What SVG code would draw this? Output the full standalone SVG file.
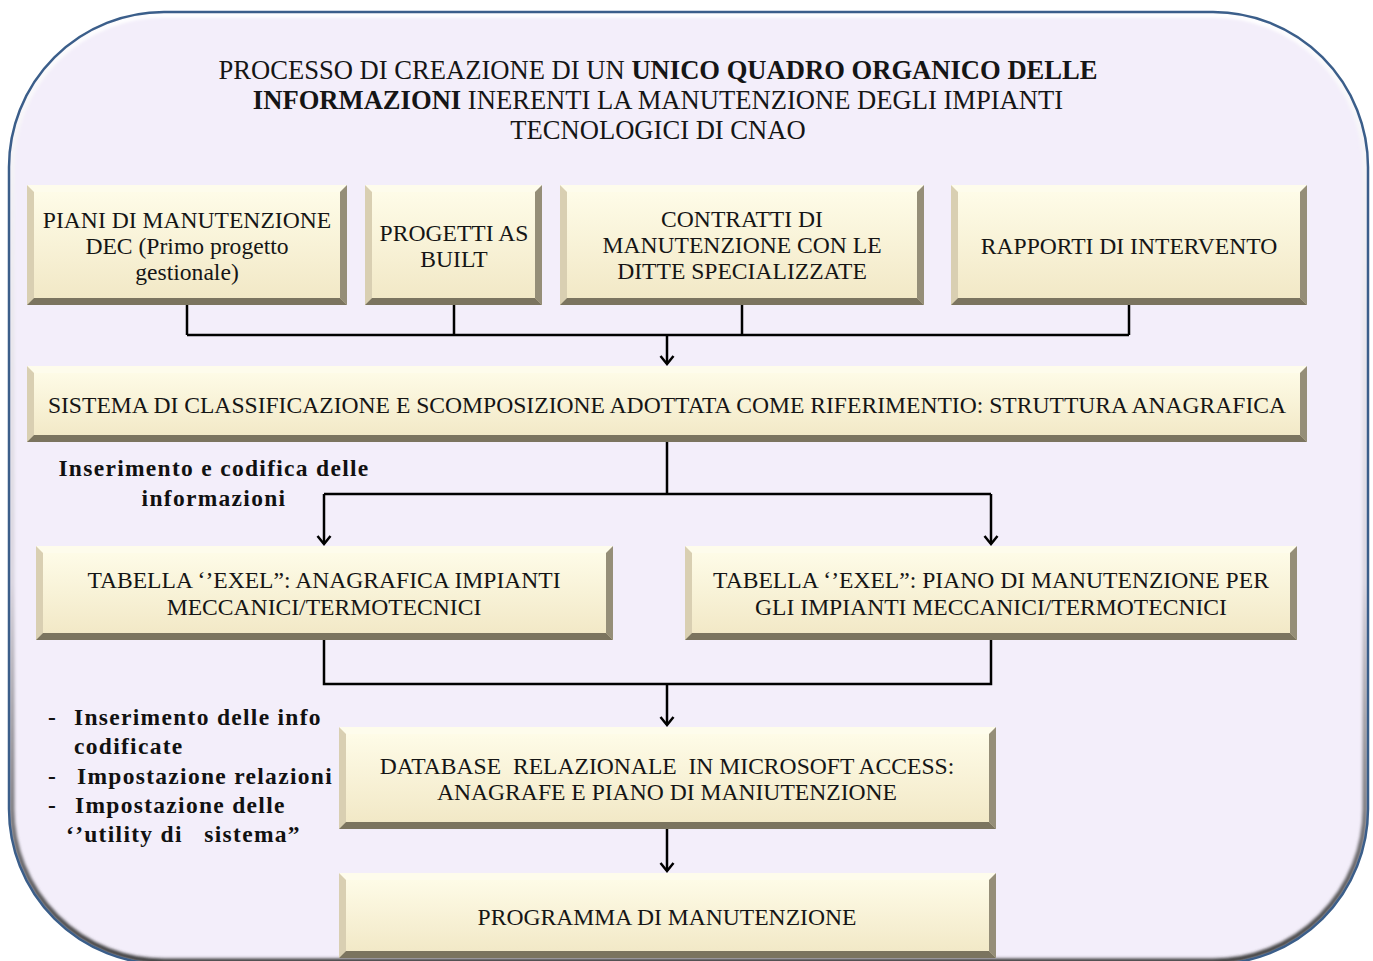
<svg xmlns="http://www.w3.org/2000/svg" width="1373" height="961" viewBox="0 0 1373 961">
  <style>
    .face { fill: url(#faceGrad); }
    .bt { fill: #fefcec; }
    .bl { fill: #d9cfb2; }
    .br { fill: #958e78; }
    .bb { fill: #7b745f; }
    .bx { font-family: "Liberation Serif", "Times New Roman", serif; font-size: 23.6px; fill: #151515; text-anchor: middle; }
    .ttl { font-family: "Liberation Serif", "Times New Roman", serif; font-size: 26.6px; fill: #151515; text-anchor: middle; }
    .lbl { font-family: "Liberation Serif", "Times New Roman", serif; font-size: 23.5px; font-weight: bold; fill: #111; letter-spacing: 1.3px; }
    .b { font-weight: bold; }
    .wire { fill: none; stroke: #000; stroke-width: 2.5; }
    .arrow { fill: none; stroke: #000; stroke-width: 2.5; marker-end: url(#chev); }
  </style>
  <defs>
    <linearGradient id="faceGrad" x1="0" y1="0" x2="0" y2="1">
      <stop offset="0" stop-color="#fffdea"/>
      <stop offset="1" stop-color="#f1e7c4"/>
    </linearGradient>
    <linearGradient id="rimGrad" x1="0" y1="0" x2="0" y2="1">
      <stop offset="0" stop-color="#ffffff"/>
      <stop offset="0.6" stop-color="#d8d4de"/>
      <stop offset="1" stop-color="#3c3c3c"/>
    </linearGradient>
    <clipPath id="frameClip">
      <rect x="9" y="12" width="1359" height="952" rx="155" ry="155"/>
    </clipPath>
    <filter id="soft" x="-5%" y="-5%" width="110%" height="110%">
      <feGaussianBlur stdDeviation="1.6"/>
    </filter>
    <marker id="chev" viewBox="-10 -8 12 16" refX="0" refY="0" markerWidth="12" markerHeight="16" markerUnits="userSpaceOnUse" orient="auto">
      <path d="M-8,-6.5 L0,0 L-8,6.5" fill="none" stroke="#000" stroke-width="2.5"/>
    </marker>
  </defs>

  <rect width="1373" height="961" fill="#ffffff"/>

  <!-- outer rounded panel -->
  <g id="frame">
    <rect x="9" y="12" width="1359" height="952" rx="155" ry="155" fill="#f3eefa"/>
    <g clip-path="url(#frameClip)">
      <rect x="12" y="15" width="1353" height="946" rx="152" ry="152" fill="none" stroke="url(#rimGrad)" stroke-width="5" filter="url(#soft)"/>
    </g>
    <rect x="9" y="12" width="1359" height="952" rx="155" ry="155" fill="none" stroke="#3b5e8a" stroke-width="2.5"/>
  </g>

  <!-- heading -->
  <g id="title">
    <text class="ttl" x="658" y="79">PROCESSO DI CREAZIONE DI UN <tspan class="b">UNICO QUADRO ORGANICO DELLE</tspan></text>
    <text class="ttl" x="658" y="109"><tspan class="b">INFORMAZIONI</tspan> INERENTI LA MANUTENZIONE DEGLI IMPIANTI</text>
    <text class="ttl" x="658" y="139">TECNOLOGICI DI CNAO</text>
  </g>

  <!-- connectors -->
  <g id="connectors">
    <path class="wire" d="M187,305 V335 M454,305 V335 M742,305 V335 M1129,305 V335 M187,335 H1129"/>
    <path class="arrow" d="M667,335 V364"/>
    <path class="wire" d="M667,442 V494 M324,494 H991"/>
    <path class="arrow" d="M324,494 V544"/>
    <path class="arrow" d="M991,494 V544"/>
    <path class="wire" d="M324,640 V684 H991 V640"/>
    <path class="arrow" d="M667,684 V725"/>
    <path class="arrow" d="M667,829 V871"/>
  </g>

  <!-- source boxes -->
  <g id="piani-dec">
    <rect class="face" x="27" y="185" width="320" height="120"/>
    <polygon class="bt" points="27,185 347,185 340,192 34,192"/>
    <polygon class="bl" points="27,185 34,192 34,298 27,305"/>
    <polygon class="br" points="347,185 347,305 340,298 340,192"/>
    <polygon class="bb" points="27,305 347,305 340,298 34,298"/>
    <text class="bx" x="187" y="228">PIANI DI MANUTENZIONE</text>
    <text class="bx" x="187" y="254">DEC (Primo progetto</text>
    <text class="bx" x="187" y="280">gestionale)</text>
  </g>

  <g id="progetti-as-built">
    <rect class="face" x="365" y="185" width="177" height="120"/>
    <polygon class="bt" points="365,185 542,185 535,192 372,192"/>
    <polygon class="bl" points="365,185 372,192 372,298 365,305"/>
    <polygon class="br" points="542,185 542,305 535,298 535,192"/>
    <polygon class="bb" points="365,305 542,305 535,298 372,298"/>
    <text class="bx" x="454" y="241">PROGETTI AS</text>
    <text class="bx" x="454" y="267">BUILT</text>
  </g>

  <g id="contratti">
    <rect class="face" x="560" y="185" width="364" height="120"/>
    <polygon class="bt" points="560,185 924,185 917,192 567,192"/>
    <polygon class="bl" points="560,185 567,192 567,298 560,305"/>
    <polygon class="br" points="924,185 924,305 917,298 917,192"/>
    <polygon class="bb" points="560,305 924,305 917,298 567,298"/>
    <text class="bx" x="742" y="227">CONTRATTI DI</text>
    <text class="bx" x="742" y="253">MANUTENZIONE CON LE</text>
    <text class="bx" x="742" y="279">DITTE SPECIALIZZATE</text>
  </g>

  <g id="rapporti">
    <rect class="face" x="951" y="185" width="356" height="120"/>
    <polygon class="bt" points="951,185 1307,185 1300,192 958,192"/>
    <polygon class="bl" points="951,185 958,192 958,298 951,305"/>
    <polygon class="br" points="1307,185 1307,305 1300,298 1300,192"/>
    <polygon class="bb" points="951,305 1307,305 1300,298 958,298"/>
    <text class="bx" x="1129" y="254">RAPPORTI DI INTERVENTO</text>
  </g>

  <!-- classification system -->
  <g id="sistema">
    <rect class="face" x="27" y="366" width="1280" height="76"/>
    <polygon class="bt" points="27,366 1307,366 1300,373 34,373"/>
    <polygon class="bl" points="27,366 34,373 34,435 27,442"/>
    <polygon class="br" points="1307,366 1307,442 1300,435 1300,373"/>
    <polygon class="bb" points="27,442 1307,442 1300,435 34,435"/>
    <text class="bx" x="667" y="413">SISTEMA DI CLASSIFICAZIONE E SCOMPOSIZIONE ADOTTATA COME RIFERIMENTIO: STRUTTURA ANAGRAFICA</text>
  </g>

  <g id="label-codifica">
    <text class="lbl" x="214" y="476" text-anchor="middle">Inserimento e codifica delle</text>
    <text class="lbl" x="214" y="506" text-anchor="middle">informazioni</text>
  </g>

  <!-- spreadsheets -->
  <g id="tabella-anagrafica">
    <rect class="face" x="36" y="546" width="577" height="94"/>
    <polygon class="bt" points="36,546 613,546 606,553 43,553"/>
    <polygon class="bl" points="36,546 43,553 43,633 36,640"/>
    <polygon class="br" points="613,546 613,640 606,633 606,553"/>
    <polygon class="bb" points="36,640 613,640 606,633 43,633"/>
    <text class="bx" x="324" y="588">TABELLA ‘’EXEL”: ANAGRAFICA IMPIANTI</text>
    <text class="bx" x="324" y="615">MECCANICI/TERMOTECNICI</text>
  </g>

  <g id="tabella-piano">
    <rect class="face" x="685" y="546" width="612" height="94"/>
    <polygon class="bt" points="685,546 1297,546 1290,553 692,553"/>
    <polygon class="bl" points="685,546 692,553 692,633 685,640"/>
    <polygon class="br" points="1297,546 1297,640 1290,633 1290,553"/>
    <polygon class="bb" points="685,640 1297,640 1290,633 692,633"/>
    <text class="bx" x="991" y="588">TABELLA ‘’EXEL”: PIANO DI MANUTENZIONE PER</text>
    <text class="bx" x="991" y="615">GLI IMPIANTI MECCANICI/TERMOTECNICI</text>
  </g>

  <g id="label-database">
    <text class="lbl" x="48" y="725">-</text>
    <text class="lbl" x="74" y="725">Inserimento delle info</text>
    <text class="lbl" x="74" y="754">codificate</text>
    <text class="lbl" x="48" y="784">-</text>
    <text class="lbl" x="77" y="784">Impostazione relazioni</text>
    <text class="lbl" x="48" y="813">-</text>
    <text class="lbl" x="75" y="813">Impostazione delle</text>
    <text class="lbl" x="66" y="842" xml:space="preserve">‘’utility di   sistema”</text>
  </g>

  <!-- database -->
  <g id="database">
    <rect class="face" x="339" y="727" width="657" height="102"/>
    <polygon class="bt" points="339,727 996,727 989,734 346,734"/>
    <polygon class="bl" points="339,727 346,734 346,822 339,829"/>
    <polygon class="br" points="996,727 996,829 989,822 989,734"/>
    <polygon class="bb" points="339,829 996,829 989,822 346,822"/>
    <text class="bx" x="667" y="774" xml:space="preserve">DATABASE  RELAZIONALE  IN MICROSOFT ACCESS:</text>
    <text class="bx" x="667" y="800">ANAGRAFE E PIANO DI MANIUTENZIONE</text>
  </g>

  <g id="programma">
    <rect class="face" x="339" y="873" width="657" height="85"/>
    <polygon class="bt" points="339,873 996,873 989,880 346,880"/>
    <polygon class="bl" points="339,873 346,880 346,951 339,958"/>
    <polygon class="br" points="996,873 996,958 989,951 989,880"/>
    <polygon class="bb" points="339,958 996,958 989,951 346,951"/>
    <text class="bx" x="667" y="925">PROGRAMMA DI MANUTENZIONE</text>
  </g>
</svg>
